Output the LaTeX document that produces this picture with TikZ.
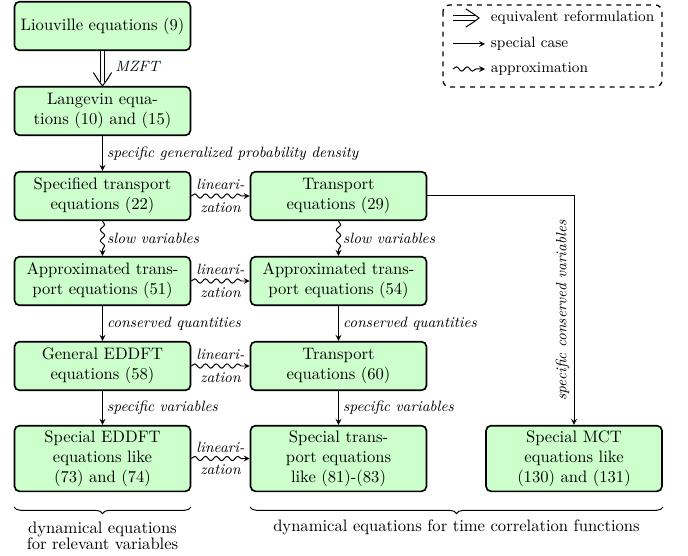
\documentclass[tikz,border=0pt]{standalone}
\usepackage{tikz}
\usetikzlibrary{arrows,arrows.meta}
\usetikzlibrary{decorations.pathmorphing,decorations.pathreplacing}
\definecolor{boxgreen}{RGB}{204,255,204}

\tikzset{vhead/.pic={
  \draw[semithick] (-8pt,5.5pt) .. controls (-2.5pt,2pt) .. (0,0)
    .. controls (-2.5pt,-2pt) .. (-8pt,-5.5pt);}}

\begin{document}
\begin{tikzpicture}[x=0.6024pt,y=-0.6024pt,
  box/.style={draw,line width=1pt,rounded corners=3pt,fill=boxgreen,
    align=center,minimum width=106pt,minimum height=29.3pt,inner sep=3pt},
  lbl/.style={font=\small\itshape,inner sep=2.5pt},
  spc/.style={semithick,-stealth},
  apx/.style={semithick,-stealth,decorate,
    decoration={snake,amplitude=1.3pt,segment length=6.5pt,post length=3pt}},
  impl/.style={line width=0.6pt,double,double distance=2.3pt},
  brc/.style={semithick,decorate,decoration={brace,mirror,amplitude=4pt}}]
  \useasboundingbox (0,0) rectangle (688,556);
  % first column
  \node[box] (liou) at (102.5,26) {Liouville equations (9)};
  \node[box] (lang) at (102.5,111) {Langevin equa-\\tions (10) and (15)};
  \node[box] (spec) at (102.5,196) {Specified transport\\equations (22)};
  \node[box] (apx1) at (102.5,281) {Approximated trans-\\port equations (51)};
  \node[box] (gen) at (102.5,366) {General EDDFT\\equations (58)};
  \node[box] (sed) at (102.5,458.5) {Special EDDFT\\equations like\\(73) and (74)};
  % second column
  \node[box] (tr1) at (338.5,196) {Transport\\equations (29)};
  \node[box] (apx2) at (338.5,281) {Approximated trans-\\port equations (54)};
  \node[box] (tr2) at (338.5,366) {Transport\\equations (60)};
  \node[box] (str) at (338.5,458.5) {Special trans-\\port equations\\like (81)-(83)};
  % third column
  \node[box] (mct) at (574,458.5) {Special MCT\\equations like\\(130) and (131)};

  \draw[impl] (liou) -- node[lbl,right=5pt]{MZFT} ([yshift=2.5pt]lang.north);
  \pic[rotate=-90] at (lang.north) {vhead};
  \draw[spc] (lang) -- node[lbl,right]{specific generalized probability density} (spec);
  \draw[apx] (spec) -- node[lbl,right]{slow variables} (apx1);
  \draw[spc] (apx1) -- node[lbl,right]{conserved quantities} (gen);
  \draw[spc] (gen) -- node[lbl,right]{specific variables} (sed);

  \draw[apx] (tr1) -- node[lbl,right]{slow variables} (apx2);
  \draw[spc] (apx2) -- node[lbl,right]{conserved quantities} (tr2);
  \draw[spc] (tr2) -- node[lbl,right]{specific variables} (str);

  \draw[apx] (spec) -- node[lbl,above=1pt]{lineari-} node[lbl,below=1pt]{zation} (tr1);
  \draw[apx] (apx1) -- node[lbl,above=1pt]{lineari-} node[lbl,below=1pt]{zation} (apx2);
  \draw[apx] (gen) -- node[lbl,above=1pt]{lineari-} node[lbl,below=1pt]{zation} (tr2);
  \draw[apx] (sed) -- node[lbl,above=1pt]{lineari-} node[lbl,below=1pt]{zation} (str);

  \draw[spc] (tr1) -| node[lbl,pos=0.75,rotate=90,anchor=south]{specific conserved variables} (mct);

  % legend
  \draw[thick,dashed,rounded corners=4pt] (443,5) rectangle (662,87);
  \node[font=\small,anchor=west] (lg1) at (485,18) {equivalent reformulation};
  \node[font=\small,anchor=west] (lg2) at (485,44) {special case};
  \node[font=\small,anchor=west] (lg3) at (485,69) {approximation};
  \coordinate (c1) at (453,18);
  \coordinate (c1e) at (479,18);
  \coordinate (c2) at (453,44);
  \coordinate (c3) at (453,69);
  \draw[impl] (c1) -- ([xshift=-2.5pt]c1e);
  \pic at (c1e) {vhead};
  \draw[spc] (c2) -- (lg2);
  \draw[apx] (c3) -- (lg3);

  % braces
  \coordinate (b1) at (14,507);
  \coordinate (b2) at (191,507);
  \coordinate (b3) at (250,507);
  \coordinate (b4) at (663,507);
  \draw[brc] (b1) -- (b2);
  \draw[brc] (b3) -- (b4);
  \node[align=center] (dl) at (102.5,536) {dynamical equations\\[-2pt]for relevant variables};
  \node (dr) at (456.5,527) {dynamical equations for time correlation functions};
\end{tikzpicture}
\end{document}
